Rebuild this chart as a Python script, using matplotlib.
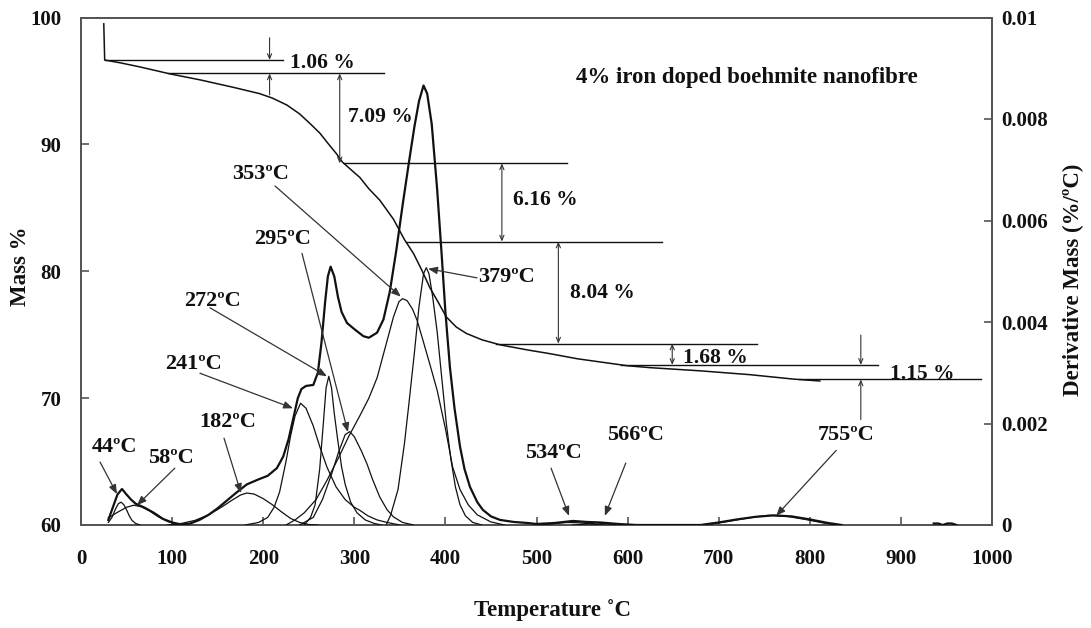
import numpy as np
import matplotlib
matplotlib.use("Agg")
import matplotlib.pyplot as plt
from matplotlib.ticker import FuncFormatter, MultipleLocator

plt.rcParams["font.family"] = ["Liberation Serif", "DejaVu Serif"]
plt.rcParams["font.weight"] = "bold"

# ---- Thermogravimetric curve (mass %, temperature in degC) ----
tg_temp = [25, 26, 45, 65, 98, 131, 167, 196, 210, 226, 240, 252, 262, 272, 280,
           287, 298, 306, 316, 328, 343, 355, 365, 374, 383, 391, 401, 412, 423,
           440, 460, 490, 515, 545, 570, 600, 625, 680, 734, 782, 811]
tg_mass = [99.5, 96.65, 96.4, 96.1, 95.55, 95.08, 94.5, 94.0, 93.65, 93.1, 92.4,
           91.6, 90.9, 90.0, 89.3, 88.6, 87.9, 87.4, 86.5, 85.6, 84.1, 82.5, 81.4,
           80.1, 78.7, 77.7, 76.4, 75.6, 75.1, 74.6, 74.2, 73.8, 73.5, 73.1, 72.85,
           72.55, 72.4, 72.15, 71.85, 71.5, 71.35]

# Mass-loss steps (%)
step_start_mass = 96.65
step_losses = [1.06, 7.09, 6.16, 8.04, 1.68, 1.15]
step_line_end = [222, 333, 533, 638, 742, 875, 988]

# ---- Measured derivative mass (x 1e-3 %/degC) ----
dtg_temp = [30, 35, 40, 45, 50, 55, 60, 65, 70, 80, 90, 100, 110, 120, 130, 140,
            150, 160, 170, 182, 195, 205, 215, 222, 228, 233, 238, 242, 247, 255,
            260, 264, 268, 271, 274, 278, 282, 286, 292, 300, 310, 316, 325, 332,
            339, 346, 353, 360, 366, 371, 376, 380, 385, 391, 396, 400, 405, 410,
            416, 421, 427, 435, 441, 450, 460, 475, 490, 500, 520, 540, 555, 570,
            590, 610, 680, 700, 720, 740, 760, 780, 800, 820, 835]
dtg_value = [0.10, 0.35, 0.60, 0.71, 0.60, 0.50, 0.42, 0.38, 0.34, 0.24, 0.12,
             0.05, 0.01, 0.03, 0.10, 0.20, 0.33, 0.48, 0.63, 0.80, 0.90, 0.97,
             1.12, 1.35, 1.70, 2.10, 2.50, 2.68, 2.74, 2.76, 3.00, 3.60, 4.40,
             4.90, 5.09, 4.90, 4.50, 4.20, 3.98, 3.86, 3.72, 3.69, 3.79, 4.05,
             4.60, 5.40, 6.30, 7.15, 7.85, 8.35, 8.66, 8.50, 7.90, 6.60, 5.30,
             4.20, 3.10, 2.30, 1.55, 1.10, 0.75, 0.45, 0.30, 0.17, 0.10, 0.06,
             0.04, 0.02, 0.04, 0.08, 0.06, 0.05, 0.02, 0.0, 0.0, 0.05, 0.11,
             0.16, 0.19, 0.17, 0.11, 0.04, 0.0]

# short flicker of the derivative signal near the end of the run
dtg_tail_temp = [936, 941, 946, 951, 956, 961]
dtg_tail_value = [0.03, 0.03, 0.0, 0.03, 0.03, 0.0]

# ---- Fitted component peaks (x 1e-3 %/degC) ----
peak_labels = [44, 58, 182, 241, 272, 295, 353, 379, 534, 566, 755]

c44_t = [30, 34, 38, 41, 44, 47, 50, 53, 56, 60, 65]
c44_v = [0.05, 0.15, 0.32, 0.42, 0.45, 0.40, 0.30, 0.18, 0.09, 0.03, 0.0]

c58_t = [30, 40, 50, 58, 66, 75, 85, 95, 105, 115]
c58_v = [0.14, 0.25, 0.35, 0.39, 0.36, 0.28, 0.16, 0.07, 0.02, 0.0]

c182_t = [95, 110, 125, 140, 155, 165, 175, 182, 190, 200, 210, 220, 230, 240, 250, 260]
c182_v = [0.0, 0.03, 0.09, 0.20, 0.36, 0.48, 0.59, 0.63, 0.61, 0.52, 0.40, 0.26,
          0.13, 0.05, 0.01, 0.0]

c241_t = [180, 195, 205, 212, 218, 225, 230, 235, 241, 247, 255, 262, 270, 280,
          290, 300, 306, 315, 325, 336, 350]
c241_v = [0.0, 0.05, 0.15, 0.35, 0.65, 1.25, 1.75, 2.15, 2.40, 2.30, 1.95, 1.55,
          1.14, 0.75, 0.50, 0.35, 0.29, 0.18, 0.10, 0.05, 0.0]

c272_t = [245, 252, 257, 262, 266, 269, 272, 275, 278, 282, 286, 290, 296, 303,
          312, 322, 330]
c272_v = [0.0, 0.15, 0.40, 1.10, 2.00, 2.70, 2.93, 2.70, 2.20, 1.65, 1.15, 0.80,
          0.45, 0.24, 0.10, 0.03, 0.0]

c295_t = [240, 255, 265, 275, 283, 290, 295, 300, 308, 314, 320, 328, 336, 343,
          353, 365]
c295_v = [0.0, 0.15, 0.50, 1.00, 1.45, 1.78, 1.84, 1.74, 1.45, 1.20, 0.90, 0.55,
          0.30, 0.16, 0.05, 0.0]

c353_t = [225, 235, 245, 258, 270, 282, 294, 306, 316, 325, 334, 343, 349, 353,
          358, 364, 369, 376, 384, 391, 400, 408, 416, 425, 435, 450, 465]
c353_v = [0.0, 0.10, 0.24, 0.50, 0.88, 1.30, 1.75, 2.15, 2.50, 2.90, 3.50, 4.10,
          4.40, 4.46, 4.42, 4.25, 4.03, 3.60, 3.10, 2.65, 1.90, 1.14, 0.70, 0.40,
          0.20, 0.06, 0.0]

c379_t = [335, 340, 348, 355, 360, 366, 371, 376, 379, 382, 386, 391, 396, 401,
          406, 411, 416, 422, 430, 440]
c379_v = [0.0, 0.20, 0.70, 1.60, 2.40, 3.40, 4.30, 4.95, 5.07, 4.95, 4.50, 3.80,
          2.90, 2.00, 1.30, 0.75, 0.40, 0.18, 0.05, 0.0]

c534_t = [505, 520, 534, 545, 555, 565, 575]
c534_v = [0.0, 0.03, 0.05, 0.045, 0.03, 0.01, 0.0]

c566_t = [540, 555, 566, 578, 590]
c566_v = [0.0, 0.02, 0.04, 0.02, 0.0]

c755_t = [680, 700, 720, 740, 755, 775, 795, 815, 830]
c755_v = [0.0, 0.04, 0.10, 0.16, 0.19, 0.17, 0.11, 0.04, 0.0]

components = [(c44_t, c44_v), (c58_t, c58_v), (c182_t, c182_v), (c241_t, c241_v),
              (c272_t, c272_v), (c295_t, c295_v), (c353_t, c353_v),
              (c379_t, c379_v), (c534_t, c534_v), (c566_t, c566_v),
              (c755_t, c755_v)]

SCALE = 1e-3
INK = "#111111"
AX_COL = "#555555"
FS_TICK = 15
FS_STEP = 15.5
FS_PEAK = 16
FS_TITLE = 16.5
FS_AXIS = 16.5

fig = plt.figure(figsize=(10.91, 6.28), dpi=100)
ax = fig.add_axes([81 / 1091, 1 - 525 / 628, 911 / 1091, 507.5 / 628])
ax2 = ax.twinx()

# derivative curves
for t, v in components:
    ax2.plot(t, np.asarray(v) * SCALE, color=INK, lw=0.9, zorder=3)
ax2.plot(dtg_temp, np.asarray(dtg_value) * SCALE, color=INK, lw=1.6, zorder=4)
ax2.plot(dtg_tail_temp, np.asarray(dtg_tail_value) * SCALE, color=INK, lw=1.6,
         zorder=4)

# mass curve
ax.plot(tg_temp, tg_mass, color=INK, lw=1.1, zorder=3)

# step levels and reference lines
levels = step_start_mass - np.concatenate([[0.0], np.cumsum(step_losses)])
tg_t_arr = np.asarray(tg_temp[1:], dtype=float)
tg_m_arr = np.asarray(tg_mass[1:], dtype=float)
for lev, x_end in zip(levels, step_line_end):
    x_start = np.interp(-lev, -tg_m_arr, tg_t_arr)
    ax.plot([x_start, x_end], [lev, lev], color=INK, lw=1.0, zorder=3)

arrow_small = dict(arrowstyle="->,head_length=0.35,head_width=0.15", lw=0.8,
                   color="#333333", shrinkA=0, shrinkB=0)
arrow_double = dict(arrowstyle="<->,head_length=0.35,head_width=0.15", lw=0.8,
                    color="#333333", shrinkA=0, shrinkB=0)

# first step: arrows pointing inwards
ax.annotate("", xy=(207, levels[0]), xytext=(207, 98.4), arrowprops=arrow_small)
ax.annotate("", xy=(207, levels[1]), xytext=(207, 93.9), arrowprops=arrow_small)
# middle steps: double arrows
for i, xa in zip([1, 2, 3, 4], [284, 462, 524, 649]):
    ax.annotate("", xy=(xa, levels[i + 1]), xytext=(xa, levels[i]),
                arrowprops=arrow_double)
# last step: arrows pointing inwards
ax.annotate("", xy=(856, levels[5]), xytext=(856, 74.97), arrowprops=arrow_small)
ax.annotate("", xy=(856, levels[6]), xytext=(856, 68.3), arrowprops=arrow_small)

step_text_pos = [(229, 96.42), (293, 92.16), (474, 85.6), (537, 78.3),
                 (661, 73.2), (888, 71.9)]
for loss, (tx, ty) in zip(step_losses, step_text_pos):
    ax.text(tx, ty, f"{loss:.2f} %", fontsize=FS_STEP, ha="left", va="center",
            color=INK, zorder=5)

ax.text(731, 95.3, "4% iron doped boehmite nanofibre", fontsize=FS_TITLE,
        ha="center", va="center", color=INK)

# peak labels with arrows (derivative axis)
label_pos = [(37.3, 1.53), (98.8, 1.32), (161, 2.02), (123, 3.18), (143.8, 4.42),
             (221.7, 5.64), (197.6, 6.92), (467.6, 4.89), (519, 1.42), (609, 1.77),
             (840, 1.77)]
arrow_from = [(20.9, 1.24), (103, 1.12), (157, 1.71), (130.6, 2.99), (141.6, 4.28),
              (242.6, 5.35), (213, 6.68), (434.7, 4.87), (516, 1.12), (598, 1.22),
              (829, 1.47)]
arrow_to = [(39.5, 0.61), (61.5, 0.39), (175.6, 0.63), (232.7, 2.30), (270, 2.93),
            (293, 1.83), (351, 4.50), (381, 5.05), (535.7, 0.18), (575, 0.18),
            (763, 0.18)]
arrow_peak = dict(arrowstyle="-|>,head_length=0.55,head_width=0.22", lw=0.9,
                  color="#333333", shrinkA=0, shrinkB=0)
for lab, (lx, ly), (fx, fy), (tx, ty) in zip(peak_labels, label_pos, arrow_from,
                                             arrow_to):
    ax2.text(lx, ly * SCALE, f"{lab}ºC", fontsize=FS_PEAK, ha="center",
             va="center", color=INK, zorder=6)
    ax2.annotate("", xy=(tx, ty * SCALE), xytext=(fx, fy * SCALE),
                 arrowprops=arrow_peak, zorder=6)

# axes
ax.set_xlim(0, 1000)
ax.set_ylim(60, 100)
ax2.set_ylim(0, 0.01)
ax.xaxis.set_major_locator(MultipleLocator(100))
ax.yaxis.set_major_locator(MultipleLocator(10))
ax2.yaxis.set_major_locator(MultipleLocator(0.002))
fmt = FuncFormatter(lambda v, p: f"{v:g}")
ax.yaxis.set_major_formatter(fmt)
ax2.yaxis.set_major_formatter(fmt)
ax.xaxis.set_major_formatter(FuncFormatter(lambda v, p: f"{v:g}"))

for a in (ax, ax2):
    for s in a.spines.values():
        s.set_color(AX_COL)
        s.set_linewidth(1.3)
ax.tick_params(axis="both", direction="in", length=6, width=1.2, color=AX_COL,
               labelsize=FS_TICK, labelcolor=INK)
ax.tick_params(axis="x", pad=17)
ax.tick_params(axis="y", pad=14)
ax2.tick_params(axis="y", direction="in", length=6, width=1.2, color=AX_COL,
                labelsize=FS_TICK, labelcolor=INK, pad=7)

fig.text(21 / 1091, 1 - 266 / 628, "Mass %", rotation=90, ha="center",
         va="center", fontsize=FS_AXIS, color=INK)
fig.text(1073 / 1091, 1 - 280 / 628, "Derivative Mass (%/ºC)", rotation=90,
         ha="center", va="center", fontsize=FS_AXIS, color=INK)
fig.text(553 / 1091, 1 - 610 / 628, "Temperature ˚C", ha="center", va="center",
         fontsize=FS_AXIS, color=INK)

fig.savefig("out.png", dpi=100)
